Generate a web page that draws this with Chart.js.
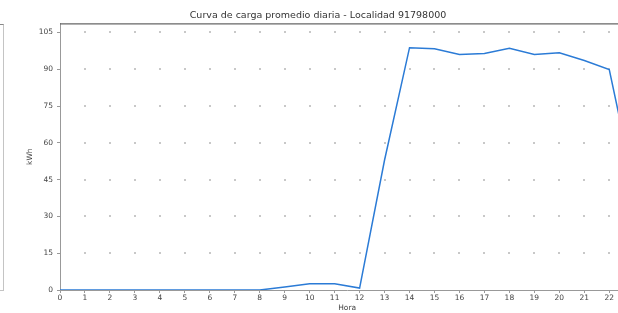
<!DOCTYPE html>
<html>
<head>
<meta charset="utf-8">
<script src="https://cdn.jsdelivr.net/npm/chart.js@4.4.1/dist/chart.umd.min.js"></script>
<style>
  html, body { margin: 0; padding: 0; background: #fff; overflow: hidden; }
  #wrap { position: relative; width: 618px; height: 313px; overflow: hidden; }
  #box { position: absolute; left: 0; top: 0; width: 640px; height: 313px; }
  /* edge of the neighbouring panel, cut off at the left */
  #prev { position: absolute; left: -30px; top: 24px; width: 32px; height: 265px;
          border: 1px solid #c4c4c4; border-top-color: #888; }
</style>
</head>
<body>
<div id="wrap">
  <div id="prev"></div>
  <div id="box"><canvas id="loadChart" width="640" height="313"></canvas></div>
</div>
<script>
/* ============================
   DATA
============================ */
const hours = [0, 1, 2, 3, 4, 5, 6, 7, 8, 9, 10, 11, 12, 13, 14, 15, 16, 17, 18, 19, 20, 21, 22, 23];
const kwh = [0, 0, 0, 0, 0, 0, 0, 0, 0, 1.2, 2.5, 2.5, 0.8, 53, 98.8, 98.4, 96.0, 96.4, 98.6, 96.0, 96.7, 93.6, 89.9, 42];
const yTicks = [0, 15, 30, 45, 60, 75, 90, 105];
const yMax = 108.7;

const FONT = "'DejaVu Sans', sans-serif";

/* dots at grid intersections + top frame line */
const gridDots = {
  id: "gridDots",
  beforeDatasetsDraw(chart) {
    const { ctx, chartArea, scales } = chart;
    ctx.save();
    ctx.fillStyle = "#c8c8c8";
    hours.forEach((h, i) => {
      const px = scales.x.getPixelForValue(i);
      yTicks.forEach((v) => {
        const py = scales.y.getPixelForValue(v);
        if (px <= chartArea.left + 1 || py >= chartArea.bottom - 1) return;
        ctx.fillRect(Math.round(px) - 1, Math.round(py) - 1, 2, 2);
      });
    });
    ctx.strokeStyle = "#666";
    ctx.lineWidth = 1.2;
    ctx.beginPath();
    ctx.moveTo(chartArea.left, chartArea.top + 0.5);
    ctx.lineTo(chartArea.right, chartArea.top + 0.5);
    ctx.stroke();
    ctx.restore();
  },
};

const ctx = document.getElementById("loadChart").getContext("2d");

new Chart(ctx, {
  type: "line",
  data: {
    labels: hours,
    datasets: [
      {
        label: "kWh",
        data: kwh,
        borderColor: "#2b7bd6",
        borderWidth: 1.5,
        pointRadius: 0,
        tension: 0,
        fill: false,
      },
    ],
  },
  options: {
    responsive: false,
    animation: false,
    devicePixelRatio: 1,
    layout: { padding: { left: 0, right: 4, top: 0, bottom: 0 } },
    plugins: {
      legend: { display: false },
      tooltip: { enabled: false },
      title: {
        display: true,
        text: "Curva de carga promedio diaria - Localidad 91798000",
        color: "#333",
        font: { family: FONT, size: 9.5, weight: "normal" },
        padding: { top: 10, bottom: 2 },
      },
    },
    scales: {
      x: {
        type: "category",
        offset: false,
        afterFit(scale) { scale.height = 23; },
        grid: { drawOnChartArea: false, drawTicks: true, tickLength: 3, color: "#999" },
        border: { color: "#999", width: 1 },
        ticks: {
          color: "#444",
          font: { family: FONT, size: 7.5 },
          padding: 1,
          maxRotation: 0,
          autoSkip: false,
        },
        title: {
          display: true,
          text: "Hora",
          color: "#444",
          font: { family: FONT, size: 7.5 },
          padding: { top: 0, bottom: 0 },
        },
      },
      y: {
        min: 0,
        max: yMax,
        afterFit(scale) { scale.width = 60; },
        afterBuildTicks(scale) {
          scale.ticks = yTicks.map((v) => ({ value: v }));
        },
        grid: { drawOnChartArea: false, drawTicks: true, tickLength: 3, color: "#999" },
        border: { color: "#999", width: 1 },
        ticks: {
          color: "#444",
          font: { family: FONT, size: 7.5 },
          padding: 4,
        },
        title: {
          display: true,
          text: "kWh",
          color: "#444",
          font: { family: FONT, size: 7.5 },
          padding: { top: 26, bottom: 0 },
        },
      },
    },
  },
  plugins: [gridDots],
});
</script>
</body>
</html>
